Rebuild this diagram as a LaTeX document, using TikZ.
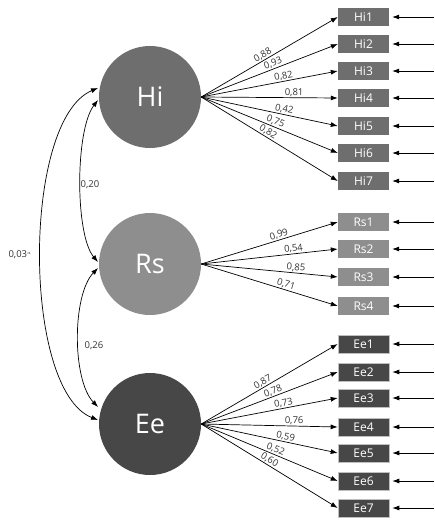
\documentclass[tikz,border=0pt]{standalone}
\usepackage{fontspec}
\setmainfont{Open Sans}
\usetikzlibrary{arrows.meta}
\definecolor{hicol}{HTML}{6E6E6E}
\definecolor{rscol}{HTML}{8E8E8E}
\definecolor{eecol}{HTML}{474747}
\definecolor{txtcol}{HTML}{333333}
\tikzset{
  latent/.style={circle, minimum size=102pt, inner sep=0pt, text=white, font=\fontsize{27}{27}\selectfont},
  obsbox/.style={rectangle, minimum width=51pt, minimum height=18pt, inner sep=0pt, text=white, font=\fontsize{12}{12}\selectfont},
  load/.style={-{Latex[length=7pt,width=5pt]}, line width=0.7pt, black},
  err/.style={-{Latex[length=7pt,width=5pt]}, line width=0.7pt, black, shorten >=3pt},
  cov/.style={{Latex[length=7pt,width=5pt]}-{Latex[length=7pt,width=5pt]}, line width=0.7pt, black},
  lbl/.style={sloped, above, inner sep=0.8pt, text=txtcol, font=\fontsize{9.5}{9.5}\selectfont},
  covlbl/.style={text=txtcol, font=\fontsize{9.5}{9.5}\selectfont}
}
\begin{document}
\begin{tikzpicture}[x=1pt,y=-1pt]
\useasboundingbox (0,0) rectangle (434,527);
% latent variables
\node[latent, fill=hicol] (Hi) at (150,97) {Hi};
\node[latent, fill=rscol] (Rs) at (150,264) {Rs};
\node[latent, fill=eecol] (Ee) at (150,424) {Ee};
% Hi indicators
\foreach \i/\y in {1/17,2/44,3/71,4/98,5/126,6/153,7/181}{
  \node[obsbox, fill=hicol] (Hi\i) at (363.5,\y) {Hi\i};
  \coordinate (eHi\i) at (434,\y);
  \draw[err] (eHi\i) -- (Hi\i.east);
}
\foreach \i/\y in {1/222,2/249,3/277,4/306}{
  \node[obsbox, fill=rscol] (Rs\i) at (363.5,\y) {Rs\i};
  \coordinate (eRs\i) at (434,\y);
  \draw[err] (eRs\i) -- (Rs\i.east);
}
\foreach \i/\y in {1/344,2/372,3/398,4/427,5/453,6/481,7/508}{
  \node[obsbox, fill=eecol, draw=black!25, line width=0.6pt] (Ee\i) at (363.5,\y) {Ee\i};
  \coordinate (eEe\i) at (434,\y);
  \draw[err] (eEe\i) -- (Ee\i.east);
}
% loadings
\foreach \i/\v/\p in {1/{0,88}/0.47,2/{0,93}/0.54,3/{0,82}/0.61,4/{0,81}/0.68,5/{0,42}/0.60,6/{0,75}/0.53,7/{0,82}/0.47}{
  \draw[load] (Hi.east) -- node[lbl, pos=\p] {\v} (Hi\i.west);
}
\foreach \i/\v/\p in {1/{0,99}/0.58,2/{0,54}/0.68,3/{0,85}/0.69,4/{0,71}/0.61}{
  \draw[load] (Rs.east) -- node[lbl, pos=\p] {\v} (Rs\i.west);
}
\foreach \i/\v/\p in {1/{0,87}/0.47,2/{0,78}/0.54,3/{0,73}/0.61,4/{0,76}/0.68,5/{0,59}/0.61,6/{0,52}/0.53,7/{0,60}/0.48}{
  \draw[load] (Ee.east) -- node[lbl, pos=\p] {\v} (Ee\i.west);
}
% covariances
\coordinate (hiA) at (98,100);
\coordinate (rsA) at (98,262);
\coordinate (rsB) at (98,268);
\coordinate (eeA) at (98,407);
\coordinate (hiB) at (98,88);
\coordinate (eeB) at (98,420);
\draw[cov] (hiA) .. controls (75,130) and (75,235) .. (rsA);
\draw[cov] (rsB) .. controls (72,295) and (72,380) .. (eeA);
\draw[cov] (hiB) .. controls (22,120) and (22,390) .. (eeB);
\node[covlbl] (c1) at (90,185) {0,20};
\node[covlbl] (c2) at (94,346) {0,26};
\node[covlbl] (c3) at (20,255) {0,03$^{\scriptscriptstyle a}$};
\end{tikzpicture}
\end{document}
